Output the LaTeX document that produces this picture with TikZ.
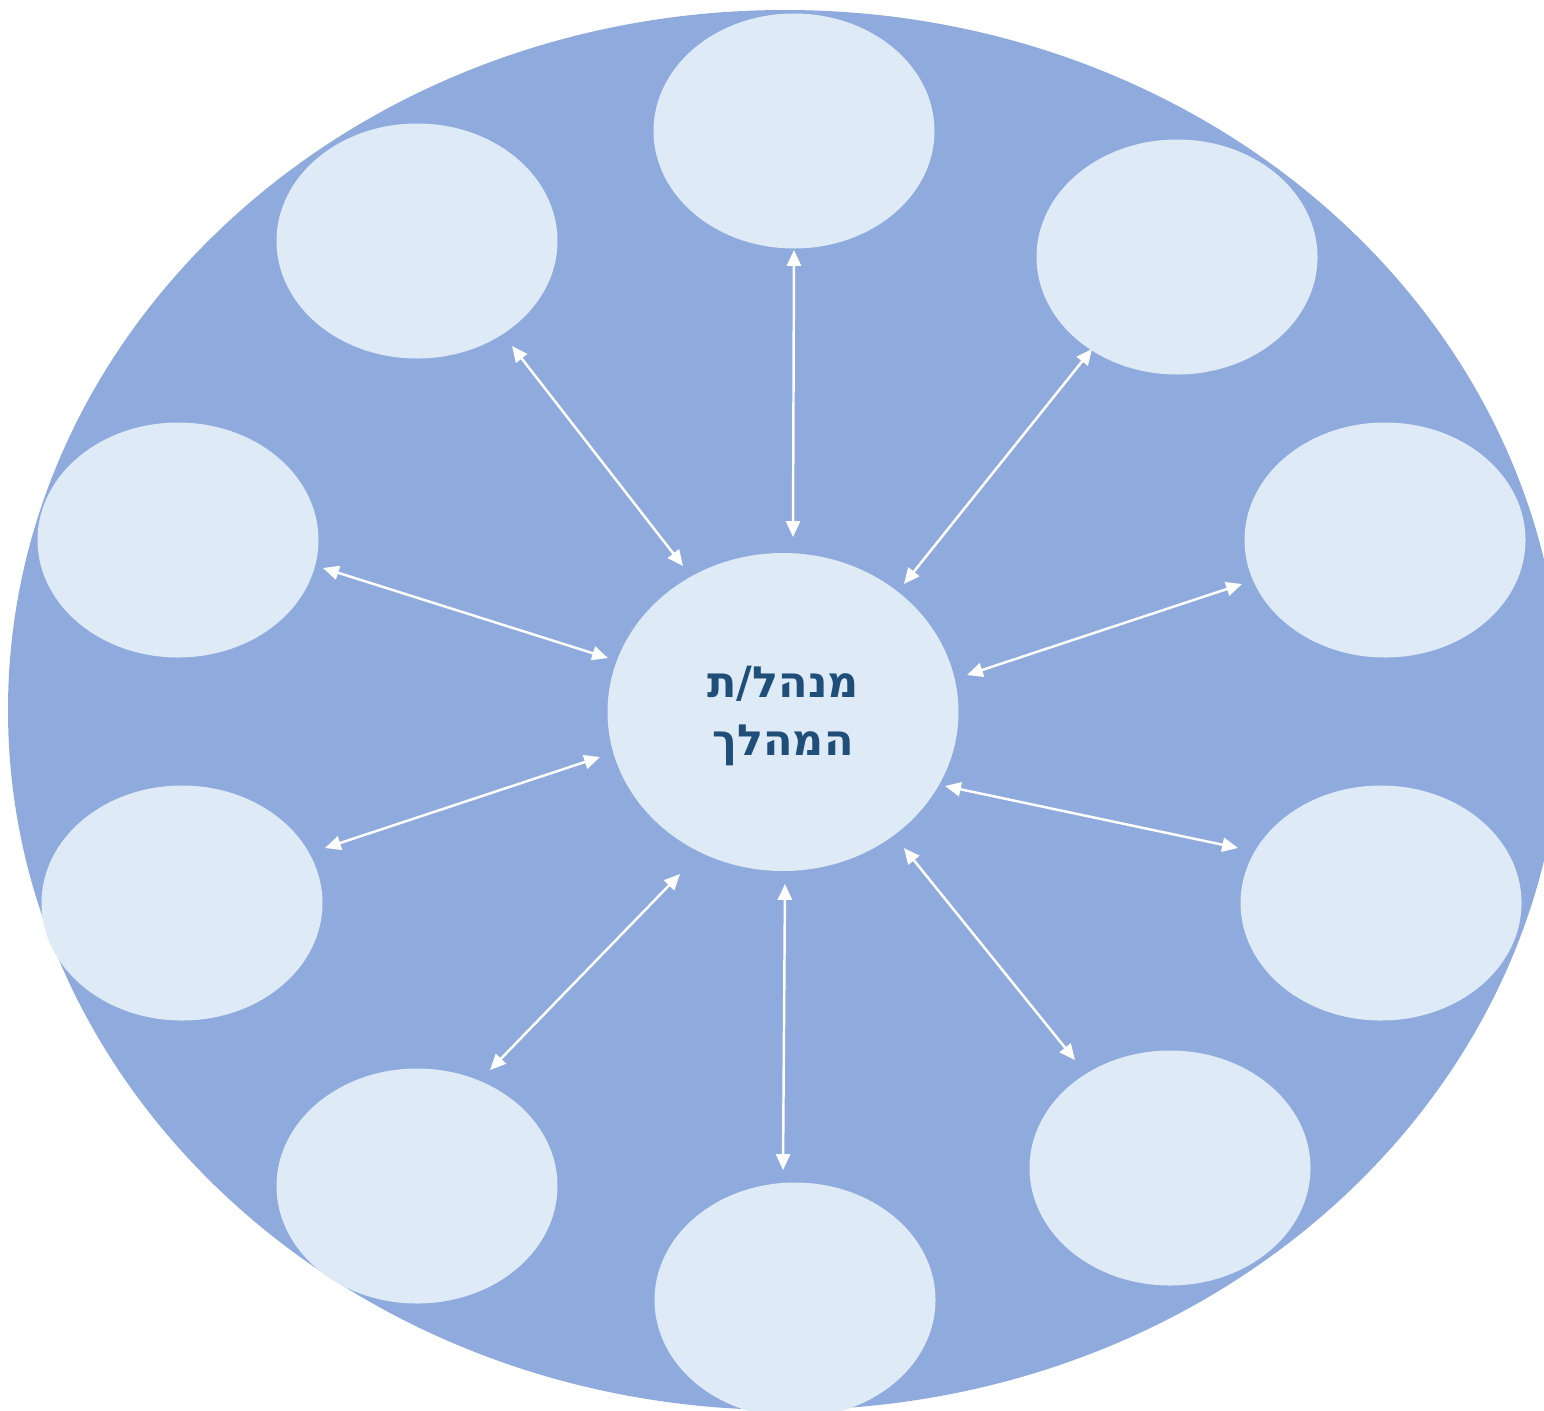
\documentclass[tikz,border=0pt]{standalone}
\usepackage{fontspec}
\usetikzlibrary{arrows.meta,shapes.geometric}
\TeXXeTstate=1
\newfontfamily\hebfont[Script=Hebrew]{DejaVu Sans}
\definecolor{bigblue}{HTML}{8FAADC}
\definecolor{lightblue}{HTML}{DEEAF6}
\definecolor{textblue}{HTML}{1F4E79}
\begin{document}
\begin{tikzpicture}[x=0.02cm,y=-0.02cm,
  small/.style={ellipse, fill=lightblue, minimum width=281*0.02cm, minimum height=235*0.02cm, inner sep=0pt},
  link/.style={white, line width=1.4pt, {Triangle[length=9pt,width=8pt]}-{Triangle[length=9pt,width=8pt]}}]
\useasboundingbox (0,0) rectangle (1544,1410);
\clip (0,0) rectangle (1544,1410);
\fill[bigblue] (785,710) ellipse [x radius=777, y radius=700];
\node[small] (top) at (794,131) {};
\node[small] (tl) at (417,241) {};
\node[small] (tr) at (1177,257) {};
\node[small] (l) at (178,540) {};
\node[small] (r) at (1385,540) {};
\node[small] (lb) at (182,903) {};
\node[small] (rb) at (1381,903) {};
\node[small] (bl) at (417,1186) {};
\node[small] (br) at (1170,1168) {};
\node[small] (bot) at (795,1300) {};
\node[ellipse, fill=lightblue, minimum width=351*0.02cm, minimum height=318*0.02cm, inner sep=0pt] (c) at (783,712) {};
\node[font=\hebfont\bfseries\fontsize{24.5}{33}\selectfont, text=textblue, align=center] (ct) at (783,716) {\beginR מנהל/ת\endR\\\beginR המהלך\endR};
% arrow endpoints
\coordinate (a1) at (794,250); \coordinate (b1) at (793,537);
\coordinate (a2) at (512,346); \coordinate (b2) at (683,566);
\coordinate (a3) at (1092,349); \coordinate (b3) at (904,584);
\coordinate (a4) at (323,568); \coordinate (b4) at (608,658);
\coordinate (a5) at (1242,584); \coordinate (b5) at (967,675);
\coordinate (a6) at (325,848); \coordinate (b6) at (600,757);
\coordinate (a7) at (1238,848); \coordinate (b7) at (945,786);
\coordinate (a8) at (490,1070); \coordinate (b8) at (680,874);
\coordinate (a9) at (783,1170); \coordinate (b9) at (785,884);
\coordinate (a10) at (1075,1060); \coordinate (b10) at (904,848);
\foreach \i in {1,...,10} { \draw[link] (a\i) -- (b\i); }
\end{tikzpicture}
\end{document}
